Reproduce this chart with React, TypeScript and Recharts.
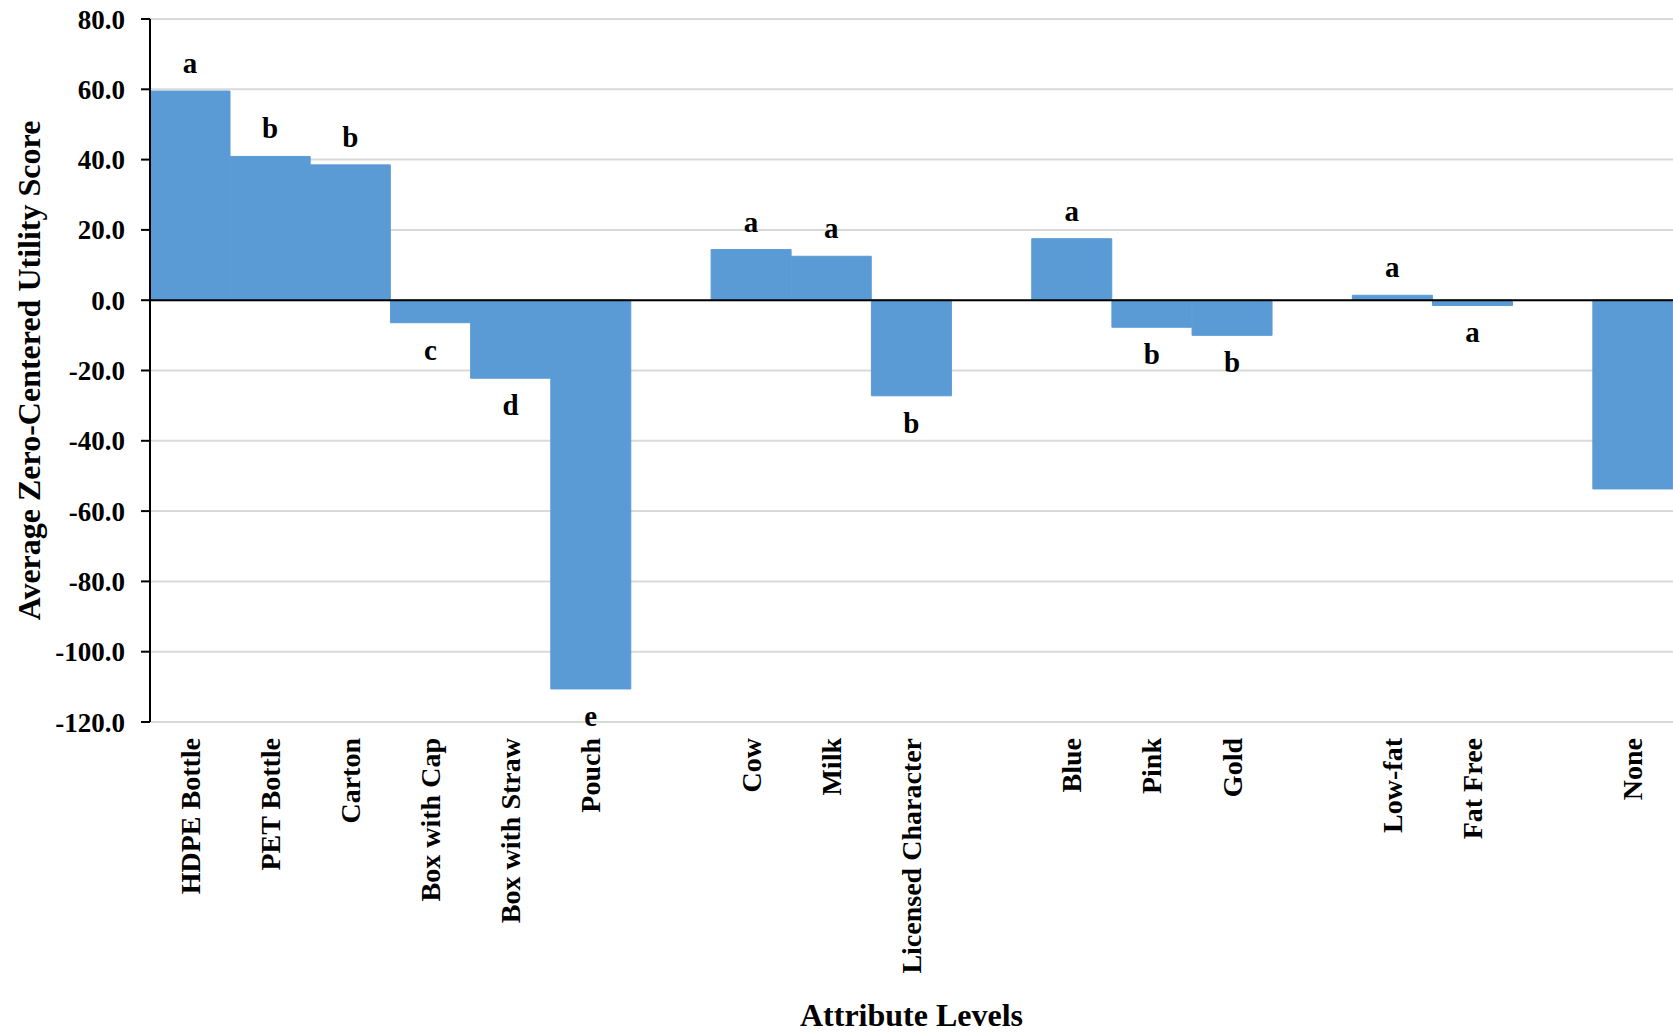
import { Bar, BarChart, CartesianGrid, LabelList, ReferenceLine, XAxis, YAxis } from "recharts";

// Attribute levels in plotting order; empty strings are spacer slots between attribute groups.
const categories = [
  "HDPE Bottle", "PET Bottle", "Carton", "Box with Cap", "Box with Straw", "Pouch", "",
  "Cow", "Milk", "Licensed Character", "",
  "Blue", "Pink", "Gold", "",
  "Low-fat", "Fat Free", "",
  "None",
];
const utility: (number | null)[] = [
  59.5, 40.9, 38.5, -6.4, -22.2, -110.6, null,
  14.4, 12.5, -27.2, null,
  17.5, -7.7, -10.0, null,
  1.4, -1.5, null,
  -53.7,
];
// Significance letters shown next to each bar.
const letters = [
  "a", "b", "b", "c", "d", "e", "",
  "a", "a", "b", "",
  "a", "b", "b", "",
  "a", "a", "",
  "",
];
const yTicks = [80, 60, 40, 20, 0, -20, -40, -60, -80, -100, -120];

const data = categories.map((name, i) => ({ id: i, name, utility: utility[i], letter: letters[i] }));

const FONT = "'Liberation Serif', 'Times New Roman', serif";
const BAR_BLUE = "#5b9bd5";

function CategoryTick({ x, y, payload }: any) {
  const label = categories[payload.value];
  if (!label) return null;
  return (
    <text
      x={x}
      y={y}
      transform={`rotate(-90, ${x}, ${y})`}
      textAnchor="end"
      dominantBaseline="central"
      fontFamily={FONT}
      fontWeight="bold"
      fontSize={28}
      fill="#000"
    >
      {label}
    </text>
  );
}

// The label value is the row id, so letter and sign come straight from the arrays.
function renderLetter(props: any) {
  const { x, y, width, height, value } = props;
  const id = Number(value);
  const v = utility[id];
  const letter = letters[id];
  if (!letter || v == null) return null;
  const top = Math.min(Number(y), Number(y) + Number(height));
  const bottom = Math.max(Number(y), Number(y) + Number(height));
  const cy = v >= 0 ? top - 28 : bottom + 27;
  return (
    <text
      key={`letter-${id}`}
      x={Number(x) + Number(width) / 2}
      y={cy}
      textAnchor="middle"
      dominantBaseline="central"
      fontFamily={FONT}
      fontWeight="bold"
      fontSize={29}
      fill="#000"
    >
      {letter}
    </text>
  );
}

function renderYTitle(props: any) {
  const vb = props.viewBox || { y: 19, height: 703 };
  const cx = 29;
  const cy = vb.y + vb.height / 2;
  return (
    <text
      x={cx}
      y={cy}
      transform={`rotate(-90, ${cx}, ${cy})`}
      textAnchor="middle"
      dominantBaseline="central"
      fontFamily={FONT}
      fontWeight="bold"
      fontSize={32}
      fill="#000"
    >
      Average Zero-Centered Utility Score
    </text>
  );
}

export default function App() {
  return (
    <div style={{ position: "absolute", left: 0, top: 0, background: "#fff" }}>
      <BarChart
        width={1673}
        height={1033}
        data={data}
        margin={{ top: 19, right: 0, bottom: 0, left: 0 }}
        barCategoryGap={0}
      >
        <CartesianGrid vertical={false} stroke="#d9d9d9" strokeWidth={2} />
        <XAxis
          dataKey="id"
          type="category"
          interval={0}
          height={311}
          axisLine={false}
          tickLine={false}
          tickSize={8}
          tickMargin={8}
          tick={<CategoryTick />}
          label={{
            value: "Attribute Levels",
            position: "insideBottom",
            offset: 7,
            fill: "#000",
            fontSize: 32,
            fontWeight: "bold",
            fontFamily: FONT,
          }}
        />
        <YAxis
          width={150}
          domain={[-120, 80]}
          ticks={yTicks}
          interval={0}
          tickFormatter={(v: number) => v.toFixed(1)}
          tickSize={9}
          tickMargin={16}
          axisLine={{ stroke: "#000", strokeWidth: 2 }}
          tickLine={{ stroke: "#000", strokeWidth: 2 }}
          tick={{ fill: "#000", fontSize: 27, fontWeight: "bold", fontFamily: FONT }}
          label={{ position: "insideLeft", content: renderYTitle }}
        />
        <Bar dataKey="utility" fill={BAR_BLUE} stroke={BAR_BLUE} strokeWidth={1} isAnimationActive={false}>
          <LabelList dataKey="id" content={renderLetter} />
        </Bar>
        <ReferenceLine y={0} stroke="#000" strokeWidth={2} />
      </BarChart>
    </div>
  );
}
